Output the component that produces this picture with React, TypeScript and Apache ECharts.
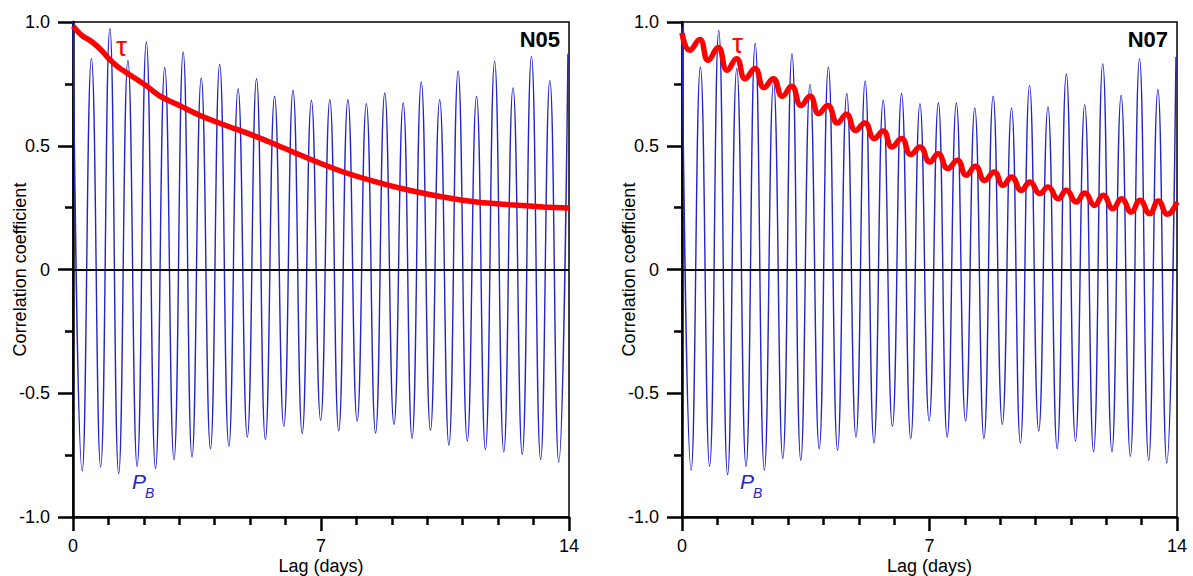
import React, { useEffect, useRef } from "react";
import * as echarts from "echarts";

// Lags (days) of the semi-diurnal peaks and troughs of P_B (shared by both panels)
const PEAK_LAGS = [0, 0.52, 1.04, 1.55, 2.07, 2.59, 3.11, 3.62, 4.14, 4.66, 5.18, 5.69, 6.21, 6.73, 7.25, 7.76, 8.28, 8.8, 9.32, 9.83, 10.35, 10.87, 11.39, 11.9, 12.42, 12.94, 13.46, 13.97];
const TROUGH_LAGS = [0.26, 0.78, 1.29, 1.81, 2.33, 2.85, 3.36, 3.88, 4.4, 4.92, 5.43, 5.95, 6.47, 6.99, 7.5, 8.02, 8.54, 9.06, 9.57, 10.09, 10.61, 11.13, 11.64, 12.16, 12.68, 13.2, 13.71];

// N05
const N05_PB_PEAKS = [1.0, 0.852, 0.973, 0.845, 0.919, 0.816, 0.879, 0.774, 0.829, 0.731, 0.771, 0.7, 0.724, 0.683, 0.686, 0.686, 0.67, 0.713, 0.673, 0.758, 0.686, 0.802, 0.7, 0.842, 0.735, 0.861, 0.764, 0.872];
const N05_PB_TROUGHS = [-0.814, -0.798, -0.825, -0.795, -0.805, -0.768, -0.758, -0.724, -0.714, -0.677, -0.687, -0.634, -0.663, -0.609, -0.652, -0.612, -0.661, -0.626, -0.683, -0.65, -0.71, -0.693, -0.728, -0.737, -0.747, -0.768, -0.778];
const N05_TAU_LAGS = [0, 0.25, 0.54, 0.8, 1.01, 1.25, 1.48, 2.05, 2.42, 3.08, 3.65, 4.31, 4.88, 5.63, 6.19, 6.86, 7.61, 8.55, 9.49, 10.44, 11.38, 12.32, 13.27, 14.0];
const N05_TAU = [0.983, 0.946, 0.919, 0.886, 0.852, 0.821, 0.798, 0.744, 0.704, 0.657, 0.618, 0.582, 0.553, 0.51, 0.476, 0.436, 0.395, 0.354, 0.32, 0.293, 0.273, 0.262, 0.253, 0.248];

// N07
const N07_PB_PEAKS = [0.98, 0.818, 0.966, 0.812, 0.913, 0.758, 0.872, 0.748, 0.818, 0.711, 0.762, 0.684, 0.711, 0.67, 0.673, 0.673, 0.653, 0.7, 0.653, 0.744, 0.657, 0.791, 0.666, 0.832, 0.704, 0.852, 0.727, 0.859];
const N07_PB_TROUGHS = [-0.811, -0.795, -0.829, -0.795, -0.811, -0.764, -0.771, -0.724, -0.731, -0.677, -0.701, -0.634, -0.683, -0.612, -0.677, -0.612, -0.683, -0.626, -0.701, -0.653, -0.724, -0.693, -0.737, -0.737, -0.755, -0.771, -0.782];
const N07_TAU_LAGS = [0, 0.22, 0.5, 0.74, 1.02, 1.28, 1.54, 1.79, 2.06, 2.32, 2.58, 2.84, 3.1, 3.37, 3.62, 3.87, 4.12, 4.4, 4.65, 4.91, 5.17, 5.44, 5.69, 5.94, 6.21, 6.47, 6.73, 7.01, 7.24, 7.52, 7.79, 8.04, 8.3, 8.56, 8.83, 9.08, 9.32, 9.6, 9.84, 10.12, 10.35, 10.64, 10.87, 11.15, 11.39, 11.67, 11.91, 12.19, 12.43, 12.71, 12.95, 13.23, 13.47, 13.73, 14.0];
const N07_TAU = [0.956, 0.886, 0.929, 0.845, 0.897, 0.805, 0.852, 0.771, 0.812, 0.735, 0.771, 0.7, 0.74, 0.663, 0.7, 0.63, 0.663, 0.592, 0.627, 0.562, 0.592, 0.529, 0.56, 0.495, 0.529, 0.465, 0.495, 0.434, 0.468, 0.408, 0.441, 0.381, 0.417, 0.36, 0.394, 0.34, 0.374, 0.32, 0.354, 0.307, 0.333, 0.286, 0.32, 0.273, 0.309, 0.259, 0.3, 0.246, 0.286, 0.232, 0.28, 0.226, 0.277, 0.223, 0.273];

const PANEL_TITLES = ["N05", "N07"];
const X_LABELS = [0, 7, 14];
const Y_LABELS = [-1, -0.5, 0, 0.5, 1];

const FONT = '"Liberation Sans", Arial, sans-serif';
const BLUE = "#2424c8";
const RED = "#ff0000";

function interleave(peaks: number[], troughs: number[]) {
  const out: number[][] = [];
  for (let i = 0; i < PEAK_LAGS.length; i++) {
    out.push([PEAK_LAGS[i], peaks[i]]);
    if (i < TROUGH_LAGS.length) out.push([TROUGH_LAGS[i], troughs[i]]);
  }
  return out;
}
function zip(xs: number[], ys: number[]) {
  return xs.map((x, i) => [x, ys[i]]);
}

export default function App() {
  const ref = useRef<HTMLDivElement>(null);
  useEffect(() => {
    if (!ref.current) return;
    const chart = echarts.init(ref.current, undefined, { renderer: "svg" });
    const grids = [
      { left: 73, top: 22, width: 496, height: 495 },
      { left: 682, top: 22, width: 495, height: 495 },
    ];
    const mkLine = () => ({ show: true, onZero: false, lineStyle: { color: "#000", width: 2.5 } });
    const xAxes: any[] = grids.map((_, i) => ({
      type: "value",
      gridIndex: i,
      position: "bottom",
      min: 0,
      max: 14,
      interval: 7,
      axisLine: mkLine(),
      axisTick: { show: true, inside: false, length: 14, lineStyle: { color: "#000", width: 2.5 } },
      minorTick: { show: true, splitNumber: 7, length: 8, lineStyle: { color: "#000", width: 2.5 } },
      splitLine: { show: false },
      minorSplitLine: { show: false },
      axisLabel: {
        show: true,
        margin: 20,
        color: "#000",
        fontSize: 18,
        fontFamily: FONT,
        formatter: (v: number) => (X_LABELS.includes(v) ? String(v) : ""),
      },
      name: "Lag (days)",
      nameLocation: "middle",
      nameGap: 40,
      nameMoveOverlap: false,
      nameTextStyle: { color: "#000", fontSize: 18, fontFamily: FONT },
    }));
    const yAxes: any[] = grids.map((_, i) => ({
      type: "value",
      gridIndex: i,
      position: "left",
      min: -1,
      max: 1,
      interval: 0.5,
      axisLine: mkLine(),
      axisTick: { show: true, inside: false, length: 15, lineStyle: { color: "#000", width: 2.5 } },
      minorTick: { show: true, splitNumber: 2, length: 8, lineStyle: { color: "#000", width: 2.5 } },
      splitLine: { show: false },
      minorSplitLine: { show: false },
      axisLabel: {
        show: true,
        margin: 23,
        color: "#000",
        fontSize: 18,
        fontFamily: FONT,
        formatter: (v: number) => (Y_LABELS.includes(v) ? (v === 0 ? "0" : v.toFixed(1)) : ""),
      },
      name: "Correlation coefficient",
      nameLocation: "middle",
      nameGap: 44,
      nameMoveOverlap: false,
      nameTextStyle: { color: "#000", fontSize: 18, fontFamily: FONT },
    }));
    const zeroLine = {
      silent: true,
      symbol: "none",
      label: { show: false },
      lineStyle: { color: "#000", width: 2, type: "solid" },
      data: [{ yAxis: 0 }],
    };
    const blue = (idx: number, data: number[][]) => ({
      type: "line",
      xAxisIndex: idx,
      yAxisIndex: idx,
      data,
      smooth: 0.5,
      showSymbol: false,
      lineStyle: { color: BLUE, width: 1.4 },
      markLine: zeroLine,
      z: 2,
    });
    const red = (idx: number, data: number[][], smooth: number, width: number) => ({
      type: "line",
      xAxisIndex: idx,
      yAxisIndex: idx,
      data,
      smooth,
      showSymbol: false,
      lineStyle: { color: RED, width },
      z: 3,
    });
    const text = (x: number, y: number, t: string, font: string, fill: string, align = "left") => ({
      type: "text",
      x,
      y,
      z: 10,
      style: { text: t, font, fill, textAlign: align, align, textVerticalAlign: "middle", verticalAlign: "middle" },
    });
    chart.setOption({
      animation: false,
      backgroundColor: "#fff",
      grid: grids.map((g) => ({
        ...g,
        outerBoundsMode: "none",
        containLabel: false,
        show: true,
        borderColor: "#000",
        borderWidth: 1.5,
        backgroundColor: "transparent",
      })),
      xAxis: xAxes,
      yAxis: yAxes,
      series: [
        blue(0, interleave(N05_PB_PEAKS, N05_PB_TROUGHS)),
        red(0, zip(N05_TAU_LAGS, N05_TAU), 0.3, 5.5),
        blue(1, interleave(N07_PB_PEAKS, N07_PB_TROUGHS)),
        red(1, zip(N07_TAU_LAGS, N07_TAU), 0.5, 5.5),
      ],
      graphic: [
        text(560, 39, PANEL_TITLES[0], `bold 22px ${FONT}`, "#000", "right"),
        text(1168, 39, PANEL_TITLES[1], `bold 22px ${FONT}`, "#000", "right"),
        text(116, 46, "τ", `28px ${FONT}`, RED),
        text(732, 43, "τ", `28px ${FONT}`, RED),
        text(132, 481, "P", `italic 21px ${FONT}`, BLUE),
        text(145, 493, "B", `italic 14px ${FONT}`, BLUE),
        text(740, 481, "P", `italic 21px ${FONT}`, BLUE),
        text(753, 493, "B", `italic 14px ${FONT}`, BLUE),
      ],
    });
    return () => chart.dispose();
  }, []);
  return (
    <div
      ref={ref}
      style={{ position: "absolute", left: 0, top: 0, width: 1193, height: 576, background: "#fff" }}
    />
  );
}
